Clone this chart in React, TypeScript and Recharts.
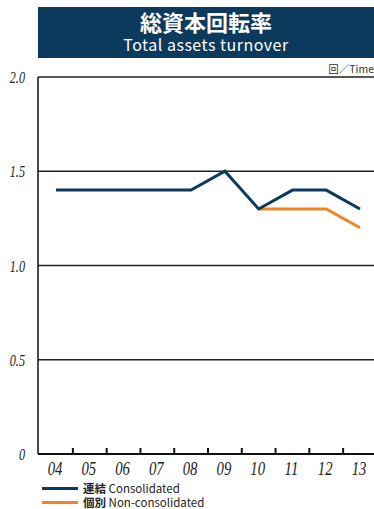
import React from 'react'
import { LineChart, Line, XAxis, YAxis, CartesianGrid } from 'recharts'

// データ
const years = ['04', '05', '06', '07', '08', '09', '10', '11', '12', '13']
const consolidated = [1.4, 1.4, 1.4, 1.4, 1.4, 1.5, 1.3, 1.4, 1.4, 1.3]
const nonConsolidated = [null, null, null, null, null, null, 1.3, 1.3, 1.3, 1.2]
const yTicks = [0, 0.5, 1.0, 1.5, 2.0]

const NAVY = '#0b3a5c'
const ORANGE = '#f08421'

const seriesList = [
  { key: 'consolidated', label: '連結', sub: 'Consolidated', color: NAVY },
  { key: 'nonConsolidated', label: '個別', sub: 'Non-consolidated', color: ORANGE }
]

const data = years.map((y, i) => ({
  year: y,
  consolidated: consolidated[i],
  nonConsolidated: nonConsolidated[i]
}))

const CHART_W = 378
const CHART_H = 509
const Y_W = 38
const X_H = 30
const M = { top: 77, right: 0, bottom: 509 - 454 - X_H, left: 0 }
const PAD = 18
const STEP = (CHART_W - Y_W - M.right - PAD * 2) / (years.length - 1)
// tick y comes in offset by tickSize + tickMargin
const TICK_OFF = 8

const XTick = (props: any) => {
  const { x, y, payload, index } = props
  const axisY = y - TICK_OFF
  return (
    <g>
      {index < years.length - 1 && (
        <line x1={x + STEP / 2} x2={x + STEP / 2} y1={axisY} y2={axisY - 6} stroke="#111" strokeWidth={2} />
      )}
      <text
        transform={`translate(${x - 1},${axisY + 21}) scale(0.82,1)`}
        textAnchor="middle"
        fontFamily="'Liberation Serif', serif"
        fontStyle="italic"
        fontSize={18}
        fill="#222"
      >
        {payload.value}
      </text>
    </g>
  )
}

const YTick = (props: any) => {
  const { x, y, payload } = props
  const v = payload.value === 0 ? '0' : payload.value.toFixed(1)
  return (
    <text
      transform={`translate(${x - 5},${y + 6}) scale(0.72,1)`}
      textAnchor="end"
      fontFamily="'Liberation Serif', serif"
      fontStyle="italic"
      fontSize={17}
      fill="#222"
    >
      {v}
    </text>
  )
}

export default function App() {
  return (
    <div style={{ position: 'absolute', left: 0, top: 0, width: 374, height: 509, overflow: 'hidden', background: '#fff' }}>
      <div
        style={{
          position: 'absolute',
          left: 38,
          top: 7,
          width: 336,
          height: 51,
          background: NAVY,
          color: '#fff',
          textAlign: 'center',
          fontFamily: "'Noto Sans CJK JP', sans-serif"
        }}
      >
        <div style={{ fontSize: 22, fontWeight: 700, lineHeight: '25px', marginTop: 2 }}>総資本回転率</div>
        <div style={{ fontSize: 16, lineHeight: '20px', letterSpacing: 0.5 }}>Total assets turnover</div>
      </div>
      <div
        style={{
          position: 'absolute',
          right: 0,
          top: 62,
          fontSize: 10.5,
          lineHeight: '13px',
          fontFamily: "'Noto Sans CJK JP', sans-serif",
          color: '#333',
          whiteSpace: 'nowrap'
        }}
      >
        回／Time
      </div>
      <div style={{ position: 'absolute', left: 0, top: 0 }}>
        <LineChart width={CHART_W} height={CHART_H} data={data} margin={M}>
          <CartesianGrid horizontal vertical={false} stroke="#222" strokeWidth={1.5} />
          <XAxis
            dataKey="year"
            padding={{ left: PAD, right: PAD }}
            axisLine={{ stroke: '#111', strokeWidth: 2 }}
            tickLine={false}
            tick={<XTick />}
            interval={0}
            height={X_H}
          />
          <YAxis
            domain={[0, 2]}
            ticks={yTicks}
            axisLine={{ stroke: '#111', strokeWidth: 1.5 }}
            tickLine={false}
            tick={<YTick />}
            width={Y_W}
          />
          <Line
            type="linear"
            dataKey="nonConsolidated"
            stroke={ORANGE}
            strokeWidth={3}
            dot={false}
            isAnimationActive={false}
            connectNulls={false}
          />
          <Line
            type="linear"
            dataKey="consolidated"
            stroke={NAVY}
            strokeWidth={3}
            dot={false}
            isAnimationActive={false}
          />
        </LineChart>
      </div>
      <div
        style={{
          position: 'absolute',
          left: 42,
          top: 481,
          fontFamily: "'Noto Sans CJK JP', 'Noto Sans', sans-serif",
          fontSize: 11.5,
          lineHeight: '14px',
          color: '#222'
        }}
      >
        {seriesList.map(s => (
          <div key={s.key} style={{ display: 'flex', alignItems: 'center', height: 14 }}>
            <span style={{ display: 'inline-block', width: 36, height: 3, background: s.color, marginRight: 5 }} />
            <span style={{ whiteSpace: 'nowrap' }}>
              <b>{s.label}</b> {s.sub}
            </span>
          </div>
        ))}
      </div>
    </div>
  )
}
